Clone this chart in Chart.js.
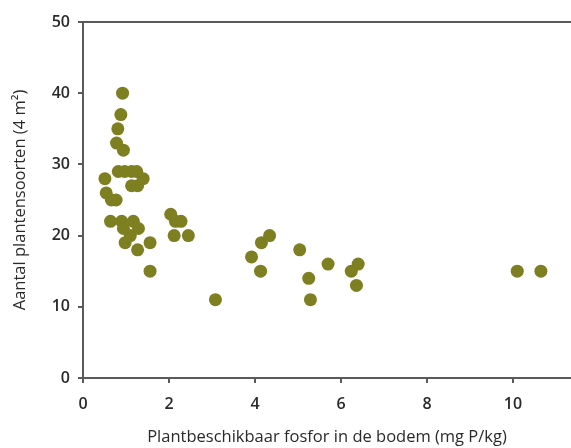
<!DOCTYPE html>
<html>
<head>
<meta charset="utf-8">
<script src="https://cdn.jsdelivr.net/npm/chart.js@4"></script>
<style>
  html, body { margin: 0; padding: 0; background: #fff; }
  #wrap { width: 571px; height: 448px; }
</style>
</head>
<body>
<div id="wrap"><canvas id="scatter"></canvas></div>
<script>
// --- DATA ---
const fosfor = [0.92, 0.88, 0.81, 0.78, 0.94, 0.82, 0.97, 1.13, 1.25, 0.51, 1.40, 1.13, 1.27, 0.54, 0.66, 0.77,
    0.64, 0.90, 1.17, 0.94, 1.29, 1.10, 0.98, 1.56, 1.27, 1.56, 2.04, 2.15, 2.28, 2.12, 2.45,
    3.08, 3.92, 4.13, 4.15, 4.34, 5.04, 5.25, 5.29, 5.70, 6.24, 6.40, 6.36, 10.1, 10.65];
const soorten = [40, 37, 35, 33, 32, 29, 29, 29, 29, 28, 28, 27, 27, 26, 25, 25,
    22, 22, 22, 21, 21, 20, 19, 19, 18, 15, 23, 22, 22, 20, 20,
    11, 17, 15, 19, 20, 18, 14, 11, 16, 15, 16, 13, 15, 15];
const xTicks = [0, 2, 4, 6, 8, 10];
const yTicks = [0, 10, 20, 30, 40, 50];

const points = fosfor.map((x, i) => ({ x: x, y: soorten[i] }));

const axisColor = '#5a5a5a';
const textColor = '#2a2a2a';
const tickFont = { family: 'Open Sans', size: 16, weight: '600' };
const titleFont = { family: 'Open Sans', size: 16.5, weight: '500' };

// top frame line
const topLine = {
    id: 'topLine',
    afterDraw(chart) {
        const { ctx, chartArea } = chart;
        ctx.save();
        ctx.strokeStyle = axisColor;
        ctx.lineWidth = 2;
        ctx.beginPath();
        ctx.moveTo(chartArea.left - 4, chartArea.top);
        ctx.lineTo(chartArea.right, chartArea.top);
        ctx.stroke();
        ctx.restore();
    }
};

new Chart(document.getElementById('scatter'), {
    type: 'scatter',
    data: {
        datasets: [{
            data: points,
            backgroundColor: '#7e7f20',
            borderWidth: 0,
            pointRadius: 6.5,
            pointHoverRadius: 6.5
        }]
    },
    options: {
        responsive: true,
        maintainAspectRatio: false,
        animation: false,
        layout: { autoPadding: false, padding: { top: 22, right: 0, left: 0, bottom: 0 } },
        plugins: { legend: { display: false }, tooltip: { enabled: false } },
        scales: {
            x: {
                type: 'linear',
                min: 0,
                max: 11.35,
                afterBuildTicks: s => { s.ticks = xTicks.map(v => ({ value: v })); },
                afterFit: s => { s.height = 70; },
                border: { display: true, color: axisColor, width: 2 },
                grid: { display: true, drawOnChartArea: false, color: axisColor, lineWidth: 2, tickLength: 5 },
                ticks: { color: textColor, font: tickFont, padding: 12, maxRotation: 0 },
                title: {
                    display: true,
                    text: 'Plantbeschikbaar fosfor in de bodem (mg P/kg)',
                    color: textColor,
                    font: titleFont,
                    padding: { top: 4, bottom: 1 }
                }
            },
            y: {
                min: 0,
                max: 50,
                afterBuildTicks: s => { s.ticks = yTicks.map(v => ({ value: v })); },
                afterFit: s => { s.width = 83; },
                border: { display: true, color: axisColor, width: 2 },
                grid: { display: true, drawOnChartArea: false, color: axisColor, lineWidth: 2, tickLength: 5 },
                ticks: { color: textColor, font: tickFont, padding: 8 },
                title: {
                    display: true,
                    text: 'Aantal plantensoorten (4 m²)',
                    color: textColor,
                    font: titleFont,
                    padding: { top: 10, bottom: 4 }
                }
            }
        }
    },
    plugins: [topLine]
});
</script>
</body>
</html>
